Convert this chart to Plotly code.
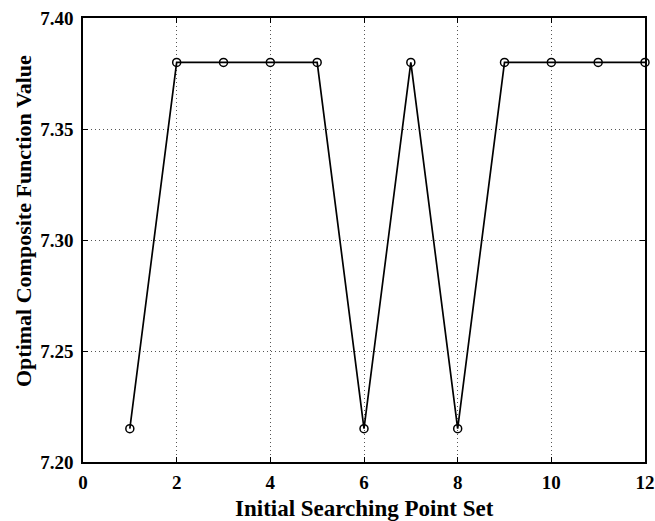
import plotly.graph_objects as go

x_vals = [1, 2, 3, 4, 5, 6, 7, 8, 9, 10, 11, 12]
y_vals = [7.215, 7.38, 7.38, 7.38, 7.38, 7.215, 7.38, 7.215, 7.38, 7.38, 7.38, 7.38]
x_ticks = [0, 2, 4, 6, 8, 10, 12]
y_ticks = [7.20, 7.25, 7.30, 7.35, 7.40]
x_title = "Initial Searching Point Set"
y_title = "Optimal Composite Function Value"

font_family = "Liberation Serif, Times New Roman, serif"

fig = go.Figure()
fig.add_trace(go.Scatter(
    x=x_vals, y=y_vals, mode="lines+markers",
    line=dict(color="black", width=1.7),
    marker=dict(symbol="circle-open", size=8, color="black", line=dict(width=1.5)),
    showlegend=False, cliponaxis=False,
))

axis_common = dict(
    showline=True, linecolor="black", linewidth=1.5, mirror="ticks",
    ticks="inside", ticklen=5, tickwidth=1.2, tickcolor="black",
    showgrid=True, gridcolor="#555555", griddash="1px,3px", gridwidth=1,
    zeroline=False, automargin=False,
    tickfont=dict(family=font_family, size=19, color="black", weight="bold"),
)

fig.update_xaxes(
    range=[0, 12], tickvals=x_ticks, ticktext=[str(v) for v in x_ticks],
    ticklabelstandoff=2,
    **axis_common,
)
fig.update_yaxes(
    range=[7.20, 7.40], tickvals=y_ticks, ticktext=[f"{v:.2f}" for v in y_ticks],
    ticklabelstandoff=4,
    **axis_common,
)

fig.add_annotation(
    text=f"<b>{x_title}</b>", xref="paper", yref="paper",
    x=0.5, y=(462 - 508) / 444, xanchor="center", yanchor="middle",
    showarrow=False, font=dict(family=font_family, size=23, color="black"),
)
fig.add_annotation(
    text=f"<b>{y_title}</b>", xref="paper", yref="paper",
    x=(23 - 83) / 562, y=(462 - 221) / 444, xanchor="center", yanchor="middle",
    textangle=-90, showarrow=False,
    font=dict(family=font_family, size=22, color="black"),
)

fig.update_layout(
    width=655, height=521,
    margin=dict(l=83, r=10, t=18, b=59),
    plot_bgcolor="white", paper_bgcolor="white",
)

fig.write_html(
    "out.html",
    config={"displayModeBar": False},
    post_script="document.body.style.margin='0';document.body.style.overflow='hidden';",
)
